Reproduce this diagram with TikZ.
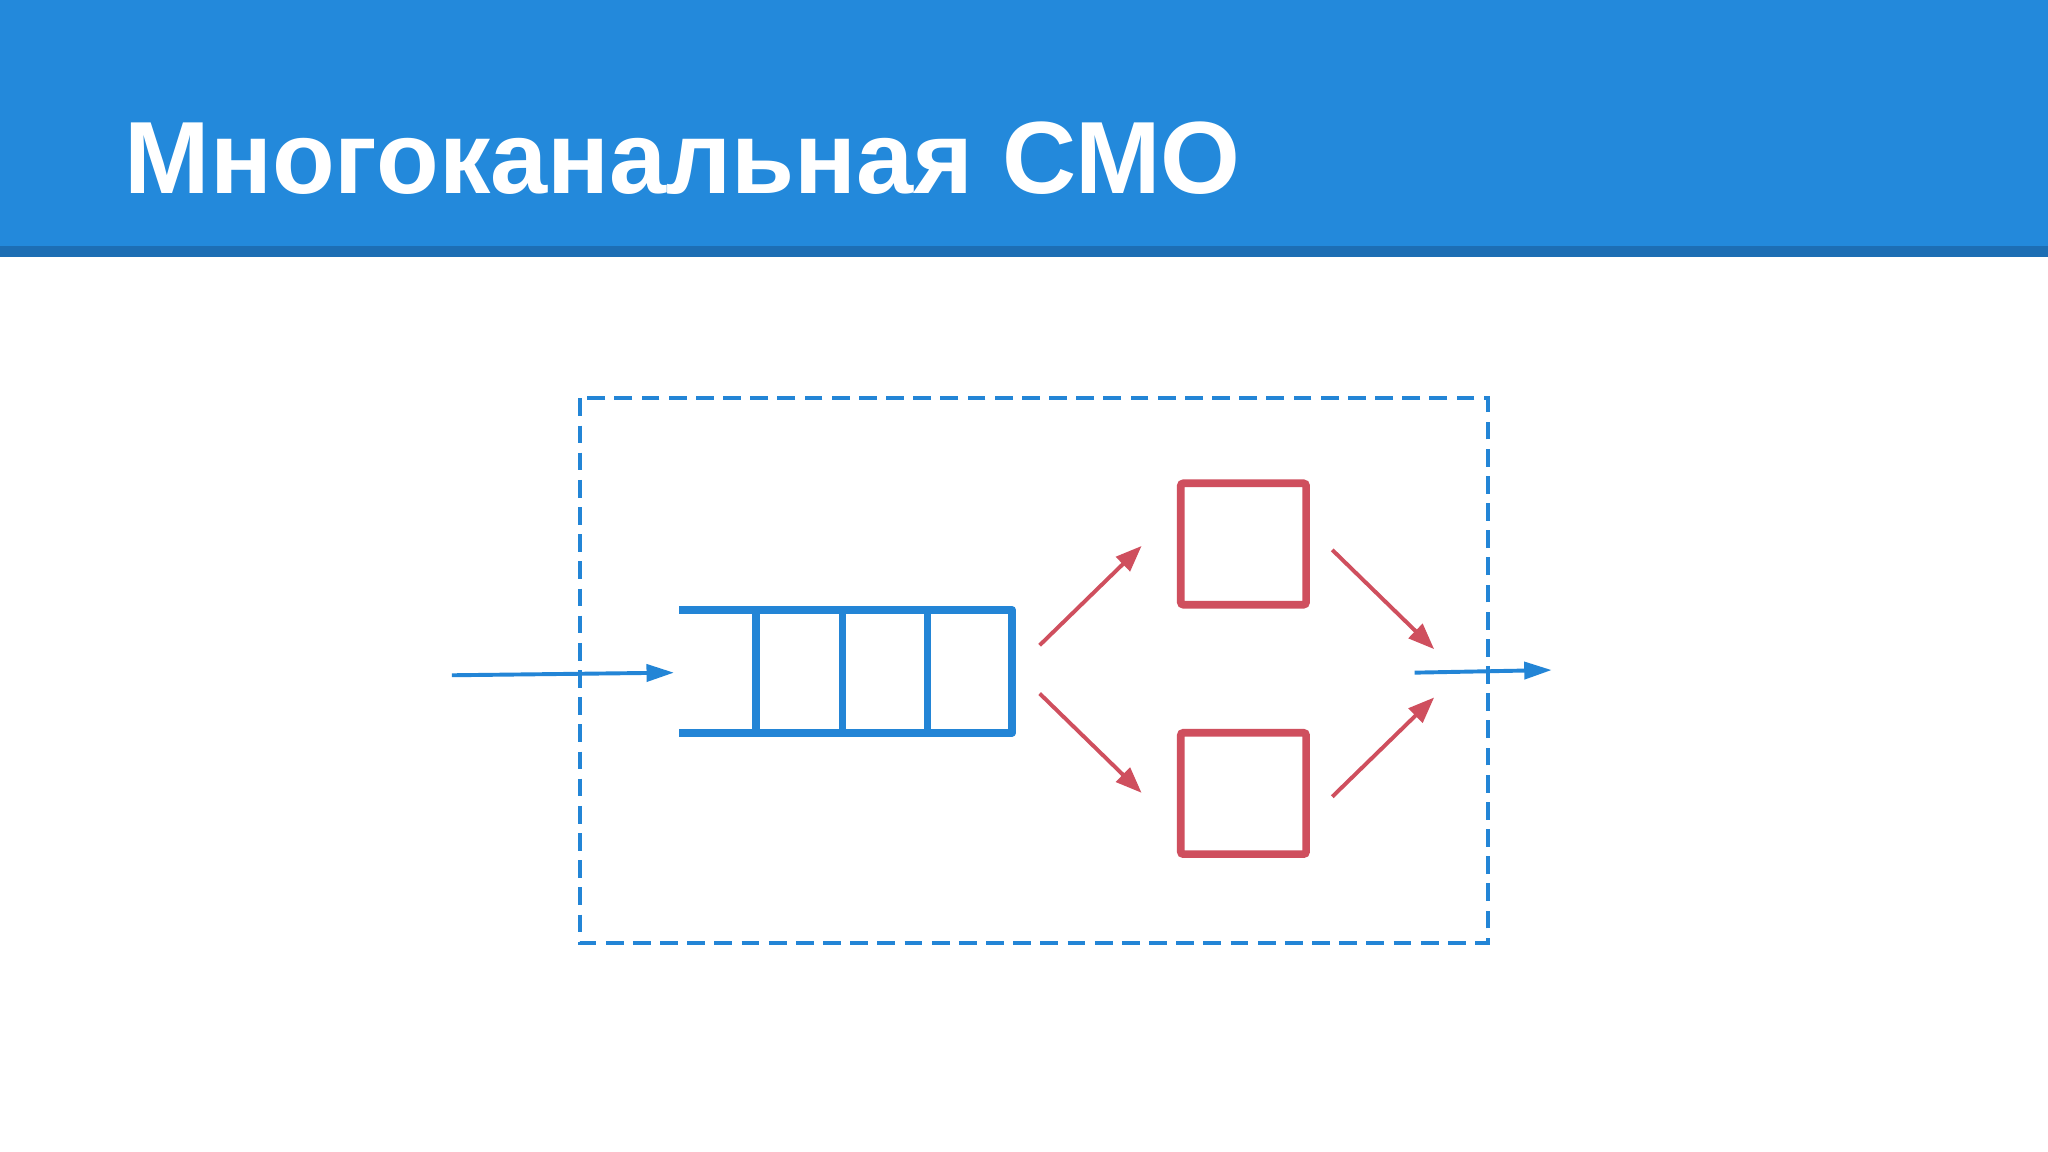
\documentclass[tikz,border=0pt]{standalone}
\usepackage{fontspec}
\setmainfont{Liberation Sans}
\usetikzlibrary{arrows.meta}
\definecolor{hdrblue}{HTML}{2389DB}
\definecolor{hdrdark}{HTML}{1D6EB4}
\definecolor{qblue}{HTML}{2385D6}
\definecolor{sred}{HTML}{CF4F5E}
\tikzset{
  qline/.style={qblue, line width=2.9pt, line cap=butt, line join=round},
  server/.style={draw=sred, line width=2.9pt, rounded corners=1pt, minimum width=48pt, minimum height=46.5pt, inner sep=0pt},
  redarrow/.style={sred, line width=1.5pt, -{Triangle[length=10pt,width=7.5pt]}},
  bluearrow/.style={qblue, line width=1.5pt, -{Triangle[length=10.5pt,width=6.5pt]}},
  boundary/.style={qblue, line width=1.5pt, dash pattern=on 6.8pt off 3.6pt},
  title/.style={text=white, font=\bfseries\fontsize{39.3}{44}\selectfont, anchor=base west, inner sep=0pt}
}
\begin{document}
\begin{tikzpicture}[x=0.5pt,y=-0.5pt]
\useasboundingbox (0,0) rectangle (1568,882);
\fill[white] (0,0) rectangle (1568,882);
% header
\fill[hdrblue] (0,0) rectangle (1568,189);
\fill[hdrdark] (0,188) rectangle (1568,197);
\node[title] (ttl) at (95,148) {Многоканальная СМО};
% boundary
\draw[boundary] (444,305) rectangle (1139,722);
% queue
\draw[qline] (520,467) -- (775,467) -- (775,561) -- (520,561);
\draw[qline] (579,467) -- (579,561);
\draw[qline] (645,467) -- (645,561);
\draw[qline] (710,467) -- (710,561);
\coordinate (qin) at (516,515);
\coordinate (qtop) at (796,494);
\coordinate (qbot) at (796,531);
% servers
\node[server] (s1) at (952,416.5) {};
\node[server] (s2) at (952,607.5) {};
\coordinate (s1in) at (874,418);
\coordinate (s2in) at (874,607);
\coordinate (s1out) at (1020,421);
\coordinate (s2out) at (1020,610);
\coordinate (m1) at (1098,497);
\coordinate (m2) at (1098,534);
% input / output
\coordinate (src) at (346,517);
\coordinate (outs) at (1083,515);
\coordinate (sink) at (1188,513);
\draw[bluearrow] (src) -- (qin);
\draw[redarrow] (qtop) -- (s1in);
\draw[redarrow] (qbot) -- (s2in);
\draw[redarrow] (s1out) -- (m1);
\draw[redarrow] (s2out) -- (m2);
\draw[bluearrow] (outs) -- (sink);
\end{tikzpicture}
\end{document}
